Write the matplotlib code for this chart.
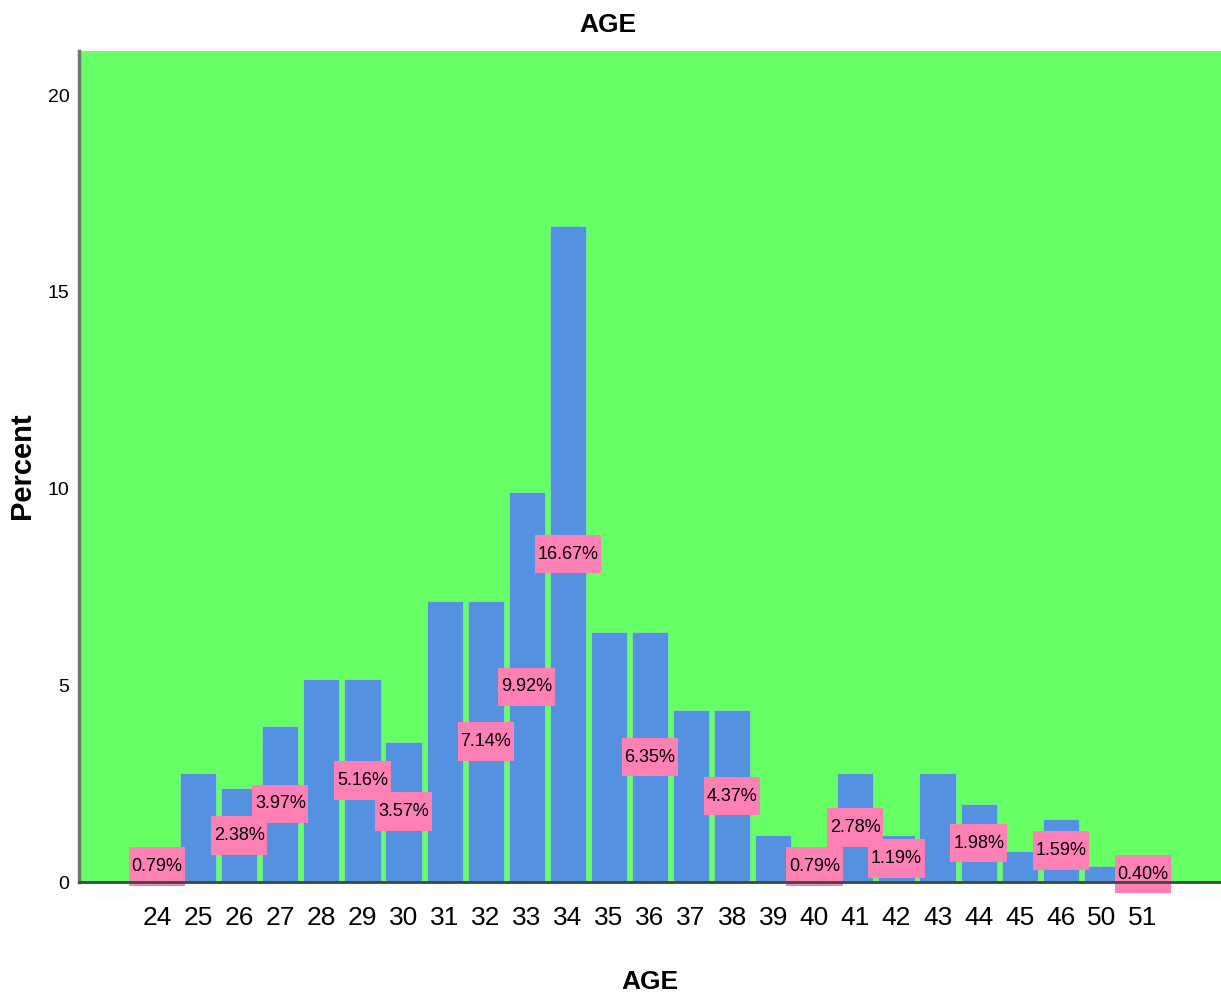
import matplotlib
matplotlib.use("Agg")
import matplotlib.pyplot as plt
import numpy as np

ages = ["24", "25", "26", "27", "28", "29", "30", "31", "32", "33", "34", "35",
        "36", "37", "38", "39", "40", "41", "42", "43", "44", "45", "46", "50", "51"]
percent = [0.79, 2.78, 2.38, 3.97, 5.16, 5.16, 3.57, 7.14, 7.14, 9.92, 16.67, 6.35,
           6.35, 4.37, 4.37, 1.19, 0.79, 2.78, 1.19, 2.78, 1.98, 0.79, 1.59, 0.40, 0.40]
labelled = ["24", "26", "27", "29", "30", "32", "33", "34", "36", "38", "40",
            "41", "42", "44", "46", "51"]
y_ticks = [0, 5, 10, 15, 20]

FONT = ["Liberation Sans", "DejaVu Sans"]

GREEN = "#66FF66"
BLUE = "#5591E1"
PINK = "#FF80B4"

fig = plt.figure(figsize=(12.21, 9.96), dpi=100)
ax = fig.add_axes([79 / 1221, 1 - 882 / 996, 1 - 79 / 1221, (882 - 51) / 996])
ax.set_facecolor(GREEN)

x = np.arange(len(ages))
ax.bar(x, percent, width=0.88, color=BLUE, edgecolor="#7CE89A", linewidth=0.6, zorder=2)

for xi, a, p in zip(x, ages, percent):
    if a in labelled:
        ax.text(xi, p / 2, f"{p:.2f}%", ha="center", va="center",
                fontsize=13, family=FONT, color="black", zorder=4,
                bbox=dict(boxstyle="square,pad=0.15", facecolor=PINK,
                          edgecolor="none", mutation_aspect=4.0))

ax.set_xlim(-1.9, len(ages) - 1 + 1.9)
ax.set_ylim(0, 21.12)
ax.set_xticks(x)
ax.set_xticklabels(ages, family=FONT, fontsize=19)
ax.set_yticks(y_ticks)
ax.set_yticklabels([str(t) for t in y_ticks], family=FONT, fontsize=14)
ax.tick_params(axis="x", length=0, pad=17)
ax.tick_params(axis="y", length=0, pad=7)

for s in ["top", "right"]:
    ax.spines[s].set_visible(False)
ax.spines["left"].set_color("#707868")
ax.spines["left"].set_linewidth(2.5)
ax.spines["bottom"].set_color("#3c4a3c")
ax.spines["bottom"].set_linewidth(2)
ax.spines["left"].set_zorder(5)
ax.spines["bottom"].set_zorder(5)

fig.text(650 / 1221, 1 - 982 / 996, "AGE", ha="center", va="center",
         family=FONT, fontsize=19, fontweight="bold")
fig.text(22 / 1221, 1 - 466 / 996, "Percent", ha="center", va="center",
         rotation=90, family=FONT, fontsize=21, fontweight="bold")
fig.text(608 / 1221, 1 - 25 / 996, "AGE", ha="center", va="center",
         family=FONT, fontsize=19, fontweight="bold")

fig.savefig("out.png", dpi=100)
